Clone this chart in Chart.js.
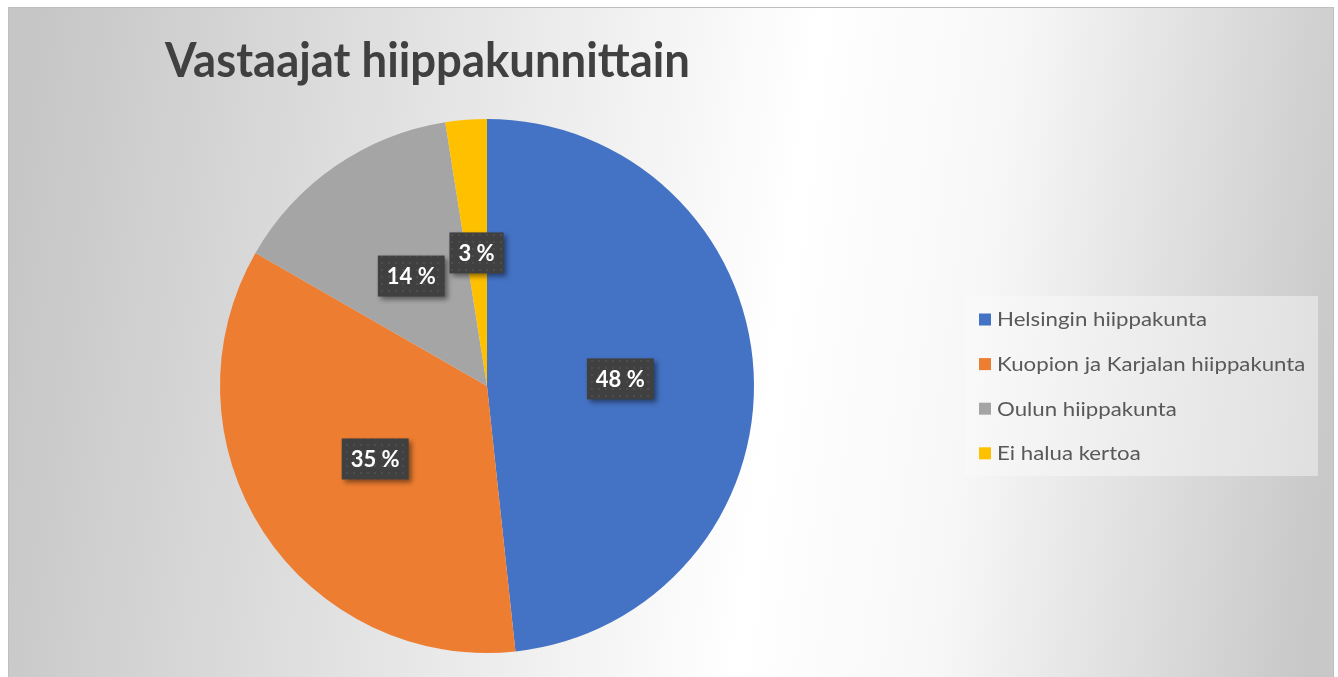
<!DOCTYPE html>
<html>
<head>
<meta charset="utf-8">
<script src="https://cdn.jsdelivr.net/npm/chart.js@4"></script>
<style>
  html, body { margin: 0; padding: 0; background: #fff; }
  canvas { display: block; }
</style>
</head>
<body>
<canvas id="pieChart" width="1338" height="677"></canvas>
<script>
const chartTitle = 'Vastaajat hiippakunnittain';
const categories = ['Helsingin hiippakunta', 'Kuopion ja Karjalan hiippakunta', 'Oulun hiippakunta', 'Ei halua kertoa'];
const shares = [48.3, 35.0, 14.2, 2.5];
const sliceColors = ['#4472C4', '#ED7D31', '#A5A5A5', '#FFC000'];

// small dotted texture for the label boxes
const dotTile = document.createElement('canvas');
dotTile.width = 7;
dotTile.height = 7;
const tctx = dotTile.getContext('2d');
tctx.fillStyle = '#404040';
tctx.fillRect(0, 0, 7, 7);
tctx.fillStyle = '#4d4d4d';
tctx.fillRect(3, 3, 2, 2);

// draws text squeezed to a given width (Calibri look)
function drawSqueezed(ctx, text, x, y, scaleX) {
    ctx.save();
    ctx.translate(x, y);
    ctx.scale(scaleX, 1);
    ctx.fillText(text, 0, 0);
    ctx.restore();
}

const backgroundPlugin = {
    id: 'background',
    beforeDraw(chart) {
        const ctx = chart.ctx;
        ctx.save();
        ctx.fillStyle = '#fff';
        ctx.fillRect(0, 0, chart.width, chart.height);
        const grad = ctx.createLinearGradient(8, 250, 1334, 420);
        grad.addColorStop(0, '#c6c6c6');
        grad.addColorStop(0.58, '#ffffff');
        grad.addColorStop(0.73, '#f7f7f7');
        grad.addColorStop(1, '#c8c8c8');
        ctx.fillStyle = grad;
        ctx.fillRect(8, 7, 1326, 670);
        ctx.strokeStyle = '#bfbfbf';
        ctx.lineWidth = 1;
        ctx.strokeRect(8.5, 7.5, 1325, 670);

        // title
        ctx.fillStyle = '#404040';
        ctx.font = 'bold 47px Lato';
        ctx.textBaseline = 'alphabetic';
        const w = ctx.measureText(chartTitle).width;
        drawSqueezed(ctx, chartTitle, 165, 77, 525 / w);
        ctx.restore();
    },
    afterDraw(chart) {
        const ctx = chart.ctx;
        ctx.save();
        // legend box
        ctx.fillStyle = 'rgba(250,250,250,0.45)';
        ctx.fillRect(965, 296, 353, 180);
        ctx.font = '18.5px Lato';
        ctx.textBaseline = 'middle';
        const sx = 210 / ctx.measureText(categories[0]).width;
        categories.forEach((name, i) => {
            const y = 319.5 + i * 44.6;
            ctx.fillStyle = sliceColors[i];
            ctx.fillRect(979, y - 6, 12, 12);
            ctx.fillStyle = '#595959';
            drawSqueezed(ctx, name, 997, y + 1, sx);
        });
        ctx.restore();
    }
};

const valueLabelPlugin = {
    id: 'valueLabels',
    afterDatasetsDraw(chart) {
        const ctx = chart.ctx;
        const meta = chart.getDatasetMeta(0);
        const pattern = ctx.createPattern(dotTile, 'repeat');
        ctx.save();
        ctx.font = 'bold 22px Lato';
        ctx.textAlign = 'center';
        ctx.textBaseline = 'middle';
        meta.data.forEach((arc, i) => {
            const pos = arc.getCenterPoint();
            const text = Math.round(shares[i]) + ' %';
            const bw = ctx.measureText(text).width + 18;
            const bh = 41;
            ctx.save();
            ctx.shadowColor = 'rgba(0,0,0,0.45)';
            ctx.shadowBlur = 5;
            ctx.shadowOffsetX = 3;
            ctx.shadowOffsetY = 3;
            ctx.fillStyle = pattern;
            ctx.fillRect(pos.x - bw / 2, pos.y - bh / 2, bw, bh);
            ctx.restore();
            ctx.fillStyle = '#ffffff';
            ctx.fillText(text, pos.x, pos.y + 1);
        });
        ctx.restore();
    }
};

new Chart(document.getElementById('pieChart'), {
    type: 'pie',
    data: {
        labels: categories,
        datasets: [{
            data: shares,
            backgroundColor: sliceColors,
            borderWidth: 0
        }]
    },
    options: {
        responsive: false,
        animation: false,
        layout: {
            padding: { left: 220, right: 584, top: 119, bottom: 24 }
        },
        plugins: {
            legend: { display: false },
            tooltip: { enabled: false },
            title: { display: false }
        }
    },
    plugins: [backgroundPlugin, valueLabelPlugin]
});
</script>
</body>
</html>
